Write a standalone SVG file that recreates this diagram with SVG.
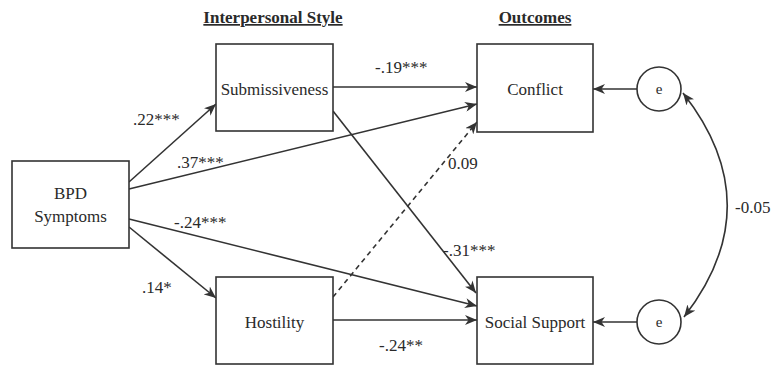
<svg xmlns="http://www.w3.org/2000/svg" width="775" height="368" viewBox="0 0 775 368">
<style>
  .box { fill: #ffffff; stroke: #333333; stroke-width: 1.6; }
  .t { font-family: "Liberation Serif", "Times New Roman", serif; font-size: 17px; fill: #2a2a2a; }
  .c { text-anchor: middle; }
  .h { font-weight: bold; text-decoration: underline; }
  .ln { fill: none; stroke: #333333; stroke-width: 1.6; marker-end: url(#ah); }
  .dash { stroke-dasharray: 5 4; }
</style>
<defs>
  <marker id="ah" markerUnits="userSpaceOnUse" markerWidth="13" markerHeight="10" refX="12" refY="5" orient="auto-start-reverse" viewBox="0 0 13 10">
    <path d="M0,0 L12,5 L0,10 L3.5,5 z" fill="#333333"/>
  </marker>
</defs>
<rect width="775" height="368" fill="#ffffff"/>

<text class="t c h" x="273" y="23">Interpersonal Style</text>
<text class="t c h" x="535" y="23">Outcomes</text>

<g id="connectors">
  <line class="ln" x1="129" y1="182" x2="216" y2="104"/>
  <line class="ln" x1="129" y1="189" x2="477" y2="104"/>
  <line class="ln" x1="333" y1="87" x2="477" y2="87"/>
  <line class="ln" x1="129" y1="219" x2="477" y2="306"/>
  <line class="ln" x1="333" y1="111" x2="476" y2="293"/>
  <line class="ln" x1="129" y1="227" x2="216" y2="298"/>
  <line class="ln" x1="333" y1="320" x2="477" y2="320"/>
  <line class="ln dash" x1="333" y1="297" x2="477" y2="122"/>
  <line class="ln" x1="637" y1="89" x2="593" y2="89"/>
  <line class="ln" x1="637" y1="322" x2="593" y2="322"/>
  <path class="ln" d="M683,93 Q771,205 684,317" style="marker-start: url(#ah)"/>
  <text class="t" x="133" y="125">.22***</text>
  <text class="t" x="177" y="168">.37***</text>
  <text class="t" x="375" y="73">-.19***</text>
  <text class="t" x="448" y="169">0.09</text>
  <text class="t" x="174" y="228">-.24***</text>
  <text class="t" x="142" y="293">.14*</text>
  <text class="t" x="443" y="256">-.31***</text>
  <text class="t" x="379" y="351">-.24**</text>
  <text class="t" x="735" y="213">-0.05</text>
</g>

<g id="bpd">
  <rect class="box" x="12" y="161" width="117" height="87"/>
  <text class="t c" x="70.5" y="199">BPD</text>
  <text class="t c" x="70.5" y="222">Symptoms</text>
</g>
<g id="submissiveness">
  <rect class="box" x="216" y="44" width="117" height="87"/>
  <text class="t c" x="274.5" y="95">Submissiveness</text>
</g>
<g id="hostility">
  <rect class="box" x="216" y="277" width="117" height="87"/>
  <text class="t c" x="274.5" y="328">Hostility</text>
</g>
<g id="conflict">
  <rect class="box" x="477" y="44" width="116" height="88"/>
  <text class="t c" x="535" y="95">Conflict</text>
</g>
<g id="social-support">
  <rect class="box" x="477" y="277" width="116" height="87"/>
  <text class="t c" x="535" y="328">Social Support</text>
</g>
<g id="e1">
  <circle class="box" cx="659" cy="89" r="22"/>
  <text class="t c" x="659" y="94" style="font-size:15px">e</text>
</g>
<g id="e2">
  <circle class="box" cx="659" cy="322" r="22"/>
  <text class="t c" x="659" y="327" style="font-size:15px">e</text>
</g>
</svg>
